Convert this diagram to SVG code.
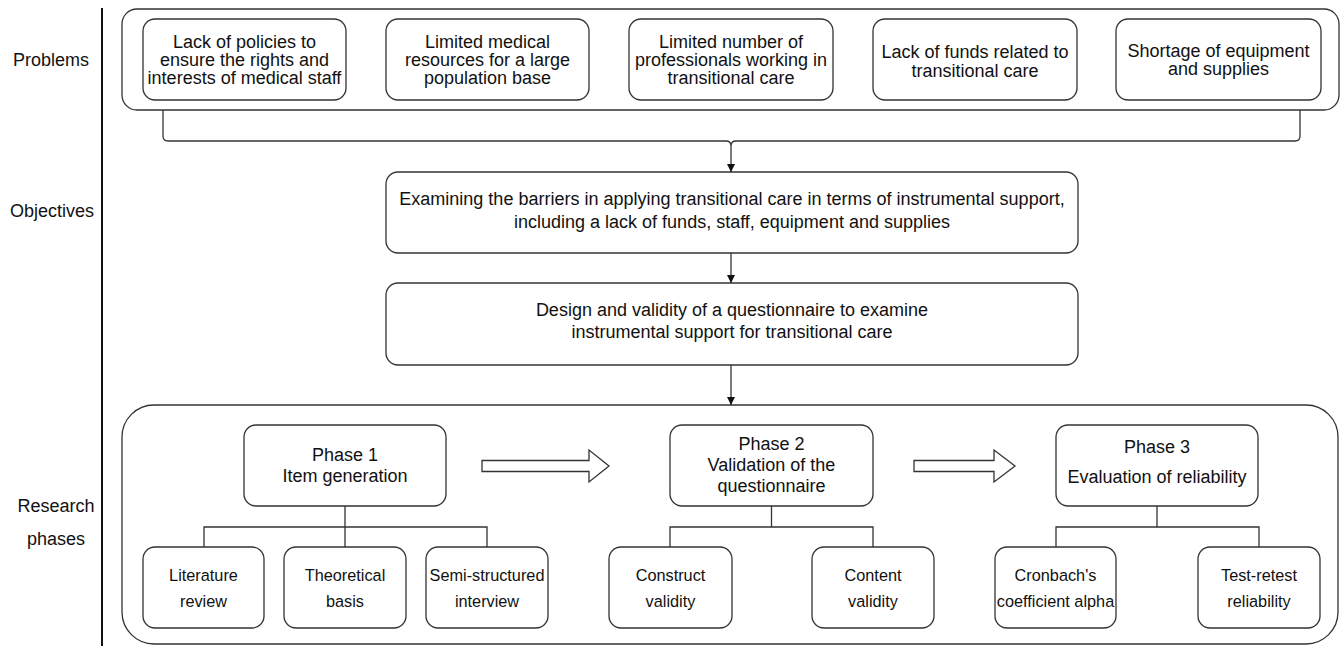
<svg xmlns="http://www.w3.org/2000/svg" width="1343" height="646" viewBox="0 0 1343 646">
<defs>
<style>
.box{fill:#fff;stroke:#333;stroke-width:1.3}
.ln{fill:none;stroke:#333;stroke-width:1.3}
.t{font-family:"Liberation Sans",Arial,sans-serif;font-size:18px;fill:#111;text-anchor:middle;dominant-baseline:central}
.s{font-family:"Liberation Sans",Arial,sans-serif;font-size:16.3px;fill:#111;text-anchor:middle;dominant-baseline:central}
.lab{font-family:"Liberation Sans",Arial,sans-serif;font-size:18px;fill:#111;text-anchor:middle;dominant-baseline:central}
</style>
<marker id="ah" viewBox="0 0 10 10" refX="10" refY="5" markerWidth="8" markerHeight="8" markerUnits="userSpaceOnUse" orient="auto">
<path d="M0,0 L10,5 L0,10 Z" fill="#111"/>
</marker>
</defs>
<rect width="1343" height="646" fill="#fff"/>

<g id="labels">
<line x1="102" y1="8" x2="102" y2="646" stroke="#111" stroke-width="2"/>
<text class="lab" x="51" y="60">Problems</text>
<text class="lab" x="52" y="211">Objectives</text>
<text class="lab" x="56" y="506">Research</text>
<text class="lab" x="56" y="539">phases</text>
</g>

<g id="problems-container"><rect class="box" x="122" y="9" width="1217" height="101" rx="15"/></g>
<g id="research-container"><rect class="box" x="122" y="405" width="1216" height="239" rx="32"/></g>

<g id="p1"><rect class="box" x="143" y="19" width="203" height="81" rx="12"/>
<text class="t" x="244.5" y="42">Lack of policies to</text><text class="t" x="244.5" y="60">ensure the rights and</text><text class="t" x="244.5" y="78">interests of medical staff</text></g>
<g id="p2"><rect class="box" x="386" y="19" width="203" height="81" rx="12"/>
<text class="t" x="487.5" y="42">Limited medical</text><text class="t" x="487.5" y="60">resources for a large</text><text class="t" x="487.5" y="78">population base</text></g>
<g id="p3"><rect class="box" x="629" y="19" width="204" height="81" rx="12"/>
<text class="t" x="731" y="42">Limited number of</text><text class="t" x="731" y="60">professionals working in</text><text class="t" x="731" y="78">transitional care</text></g>
<g id="p4"><rect class="box" x="873" y="19" width="204" height="81" rx="12"/>
<text class="t" x="975" y="52">Lack of funds related to</text><text class="t" x="975" y="71">transitional care</text></g>
<g id="p5"><rect class="box" x="1116" y="19" width="205" height="81" rx="12"/>
<text class="t" x="1218.5" y="51">Shortage of equipment</text><text class="t" x="1218.5" y="69">and supplies</text></g>

<g id="o1"><rect class="box" x="386" y="172" width="692" height="81" rx="12"/>
<text class="t" x="732" y="199">Examining the barriers in applying transitional care in terms of instrumental support,</text>
<text class="t" x="732" y="222">including a lack of funds, staff, equipment and supplies</text></g>
<g id="o2"><rect class="box" x="386" y="283" width="692" height="82" rx="12"/>
<text class="t" x="732" y="310">Design and validity of a questionnaire to examine</text>
<text class="t" x="732" y="332">instrumental support for transitional care</text></g>

<g id="ph1"><rect class="box" x="244" y="425" width="202" height="81" rx="12"/>
<text class="t" x="345" y="455">Phase 1</text><text class="t" x="345" y="476">Item generation</text></g>
<g id="ph2"><rect class="box" x="670" y="425" width="203" height="81" rx="12"/>
<text class="t" x="771.5" y="444">Phase 2</text><text class="t" x="771.5" y="465">Validation of the</text><text class="t" x="771.5" y="486">questionnaire</text></g>
<g id="ph3"><rect class="box" x="1056" y="425" width="202" height="81" rx="12"/>
<text class="t" x="1157" y="447">Phase 3</text><text class="t" x="1157" y="477">Evaluation of reliability</text></g>

<g id="s1"><rect class="box" x="143" y="547" width="121" height="81" rx="12"/>
<text class="s" x="203.5" y="575">Literature</text><text class="s" x="203.5" y="601">review</text></g>
<g id="s2"><rect class="box" x="284" y="547" width="122" height="81" rx="12"/>
<text class="s" x="345" y="575">Theoretical</text><text class="s" x="345" y="601">basis</text></g>
<g id="s3"><rect class="box" x="426" y="547" width="122" height="81" rx="12"/>
<text class="s" x="487" y="575">Semi-structured</text><text class="s" x="487" y="601">interview</text></g>
<g id="s4"><rect class="box" x="609" y="547" width="123" height="81" rx="12"/>
<text class="s" x="670.5" y="575">Construct</text><text class="s" x="670.5" y="601">validity</text></g>
<g id="s5"><rect class="box" x="812" y="547" width="122" height="81" rx="12"/>
<text class="s" x="873" y="575">Content</text><text class="s" x="873" y="601">validity</text></g>
<g id="s6"><rect class="box" x="995" y="547" width="121" height="81" rx="12"/>
<text class="s" x="1055.5" y="575">Cronbach's</text><text class="s" x="1055.5" y="601">coefficient alpha</text></g>
<g id="s7"><rect class="box" x="1198" y="547" width="122" height="81" rx="12"/>
<text class="s" x="1259" y="575">Test-retest</text><text class="s" x="1259" y="601">reliability</text></g>

<g id="connectors">
<path class="ln" d="M163,110 V136 Q163,141 168,141 H726 Q731,141 731,146 M1300,110 V136 Q1300,141 1295,141 H736 Q731,141 731,146"/>
<path class="ln" d="M731,146 V172" marker-end="url(#ah)"/>
<path class="ln" d="M731,253 V283" marker-end="url(#ah)"/>
<path class="ln" d="M731,365 V405" marker-end="url(#ah)"/>
<path class="ln" d="M345,506 V527 M204,547 V527 H487 V547 M345,527 V547"/>
<path class="ln" d="M771.5,506 V527 M670,547 V527 H873 V547"/>
<path class="ln" d="M1157,506 V527 M1056,547 V527 H1259 V547"/>
<path class="box" d="M482,460.5 H589 V450 L609,466 L589,482 V471.5 H482 Z"/>
<path class="box" d="M914,460.5 H994 V450 L1015,466 L994,482 V471.5 H914 Z"/>
</g>
</svg>
